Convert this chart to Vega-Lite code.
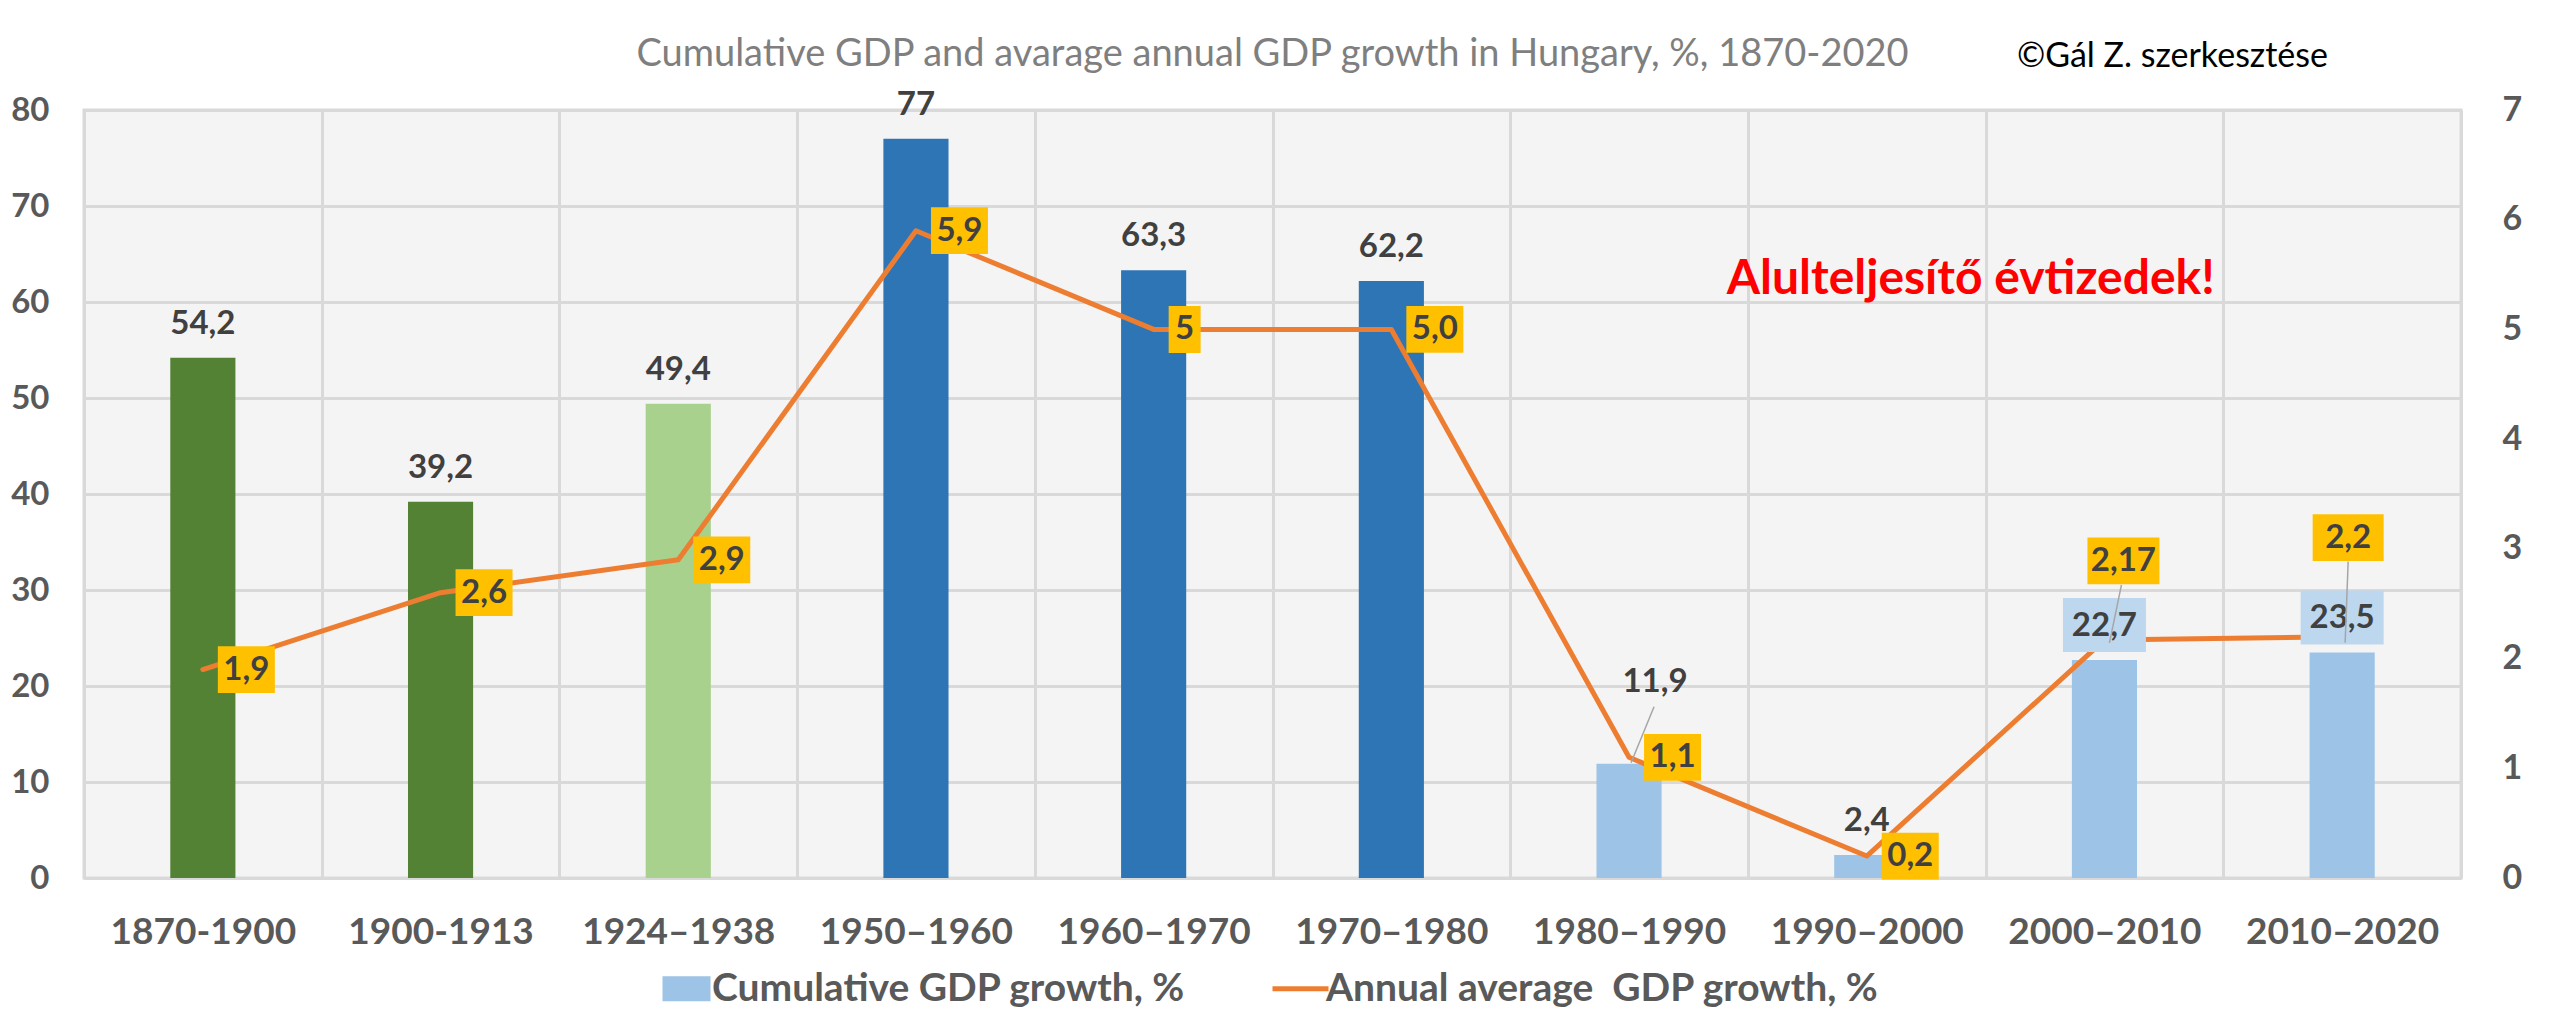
{
  "$schema": "https://vega.github.io/schema/vega-lite/v6.json",
  "width": 2377,
  "height": 768,
  "autosize": {"type": "none"},
  "padding": {"left": 84, "top": 110, "right": 91, "bottom": 131},
  "background": "white",
  "title": {
    "text": "Cumulative GDP and avarage annual GDP growth in Hungary, %, 1870-2020",
    "font": "Lato", "fontSize": 38, "fontWeight": "normal", "color": "#7F7F7F",
    "anchor": "middle", "frame": "group", "baseline": "alphabetic", "offset": 8, "dy": 72
  },
  "data": {
    "values": [
      {"period": "1870-1900", "cum": 54.2, "avg": 1.9, "era": "prewar", "cl": "54,2", "al": "1,9"},
      {"period": "1900-1913", "cum": 39.2, "avg": 2.6, "era": "prewar", "cl": "39,2", "al": "2,6"},
      {"period": "1924–1938", "cum": 49.4, "avg": 2.9, "era": "interwar", "cl": "49,4", "al": "2,9"},
      {"period": "1950–1960", "cum": 77, "avg": 5.9, "era": "socialist", "cl": "77", "al": "5,9"},
      {"period": "1960–1970", "cum": 63.3, "avg": 5.0, "era": "socialist", "cl": "63,3", "al": "5"},
      {"period": "1970–1980", "cum": 62.2, "avg": 5.0, "era": "socialist", "cl": "62,2", "al": "5,0"},
      {"period": "1980–1990", "cum": 11.9, "avg": 1.1, "era": "Cumulative GDP growth, %", "cl": "11,9", "al": "1,1"},
      {"period": "1990–2000", "cum": 2.4, "avg": 0.2, "era": "Cumulative GDP growth, %", "cl": "2,4", "al": "0,2"},
      {"period": "2000–2010", "cum": 22.7, "avg": 2.17, "era": "Cumulative GDP growth, %", "cl": "22,7", "al": "2,17"},
      {"period": "2010–2020", "cum": 23.5, "avg": 2.2, "era": "Cumulative GDP growth, %", "cl": "23,5", "al": "2,2"}
    ]
  },
  "config": {
    "view": {"fill": "#F4F4F4", "stroke": "#D9D9D9", "strokeWidth": 3},
    "axis": {"labelFont": "Lato", "labelFontWeight": "bold", "labelColor": "#595959", "ticks": false, "tickSize": 0, "title": null},
    "legend": {"layout": {"bottom": {"anchor": "middle"}}}
  },
  "resolve": {"scale": {"y": "independent"}, "axis": {"y": "independent"}},
  "layer": [
    {
      "layer": [
        {
          "mark": {"type": "bar", "width": {"band": 0.274}},
          "encoding": {
            "x": {
              "field": "period", "type": "nominal", "sort": null,
              "scale": {"domain": ["1870-1900", "1900-1913", "1924–1938", "1950–1960", "1960–1970", "1970–1980", "1980–1990", "1990–2000", "2000–2010", "2010–2020"], "paddingInner": 0, "paddingOuter": 0},
              "axis": {"labelAngle": 0, "labelFontSize": 37, "labelPadding": 36, "labelLimit": 500, "grid": true, "tickBand": "extent", "gridColor": "#D9D9D9", "gridWidth": 3, "domain": true, "domainColor": "#D9D9D9", "domainWidth": 3, "title": null}
            },
            "y": {
              "field": "cum", "type": "quantitative",
              "scale": {"domain": [0, 80], "nice": false},
              "axis": {"orient": "left", "values": [0, 10, 20, 30, 40, 50, 60, 70, 80], "grid": true, "gridColor": "#D9D9D9", "gridWidth": 3, "domain": false, "labelFontSize": 33, "labelPadding": 35, "title": null}
            },
            "color": {
              "field": "era", "type": "nominal",
              "scale": {"domain": ["prewar", "interwar", "socialist", "Cumulative GDP growth, %", "Annual average\u00a0 GDP growth, %"], "range": ["#548235", "#A9D18E", "#2E75B6", "#9DC3E6", "#ED7D31"]},
              "legend": {
                "values": ["Cumulative GDP growth, %", "Annual average\u00a0 GDP growth, %"],
                "title": null, "orient": "bottom", "direction": "horizontal",
                "labelFont": "Lato", "labelFontWeight": "bold", "labelFontSize": 39, "labelColor": "#595959",
                "labelLimit": 1000, "symbolSize": 3136, "labelOffset": 6, "columnPadding": 76, "offset": 19,
                "encode": {
                  "symbols": {
                    "update": {
                      "shape": {"signal": "datum.value === 'Cumulative GDP growth, %' ? 'M-1,-0.52H1V0.52H-1Z' : 'stroke'"},
                      "size": {"signal": "datum.value === 'Cumulative GDP growth, %' ? 2304 : 3136"},
                      "strokeWidth": {"signal": "datum.value === 'Cumulative GDP growth, %' ? 0 : 5"},
                      "fill": {"signal": "datum.value === 'Cumulative GDP growth, %' ? '#9DC3E6' : 'transparent'"},
                      "stroke": {"value": "#ED7D31"},
                      "opacity": {"value": 1}
                    }
                  }
                }
              }
            }
          }
        },
        {
          "data": {"values": [{}]},
          "mark": {"type": "text", "text": "Alulteljesítő évtizedek!", "font": "Lato", "fontWeight": "bold", "fontSize": 48, "color": "#FF0000", "dx": 104, "baseline": "middle", "align": "center"},
          "encoding": {"x": {"datum": "1990–2000"}, "y": {"datum": 62.3}}
        },
        {
          "data": {"values": [{}]},
          "mark": {"type": "text", "text": "©Gál Z. szerkesztése", "font": "Lato", "fontWeight": "normal", "fontSize": 34, "color": "#000000", "dx": 68, "baseline": "middle", "align": "center"},
          "encoding": {"x": {"datum": "2000–2010"}, "y": {"datum": 85.5}}
        }
      ]
    },
    {
      "layer": [
        {
          "mark": {"type": "line", "strokeWidth": 5, "strokeJoin": "round", "strokeCap": "round"},
          "encoding": {
            "x": {"field": "period", "type": "nominal", "sort": null},
            "y": {
              "field": "avg", "type": "quantitative",
              "scale": {"domain": [0, 7], "nice": false},
              "axis": {"orient": "right", "values": [0, 1, 2, 3, 4, 5, 6, 7], "grid": false, "domain": false, "labelFontSize": 34, "labelPadding": 41, "title": null}
            },
            "color": {"datum": "Annual average\u00a0 GDP growth, %"}
          }
        }
      ]
    },
    {
      "encoding": {
        "x": {"field": "period", "type": "nominal", "sort": null},
        "y": {"field": "cum", "type": "quantitative", "scale": {"domain": [0, 80], "nice": false}, "axis": null}
      },
      "layer": [
        {
          "transform": [{"filter": {"field": "period", "oneOf": ["2000–2010", "2010–2020"]}}],
          "mark": {"type": "point", "shape": "M-1,-0.65H1V0.65H-1Z", "size": 6889, "filled": true, "color": "#BDD7EE", "opacity": 1, "strokeWidth": 0, "yOffset": -35}
        },
        {
          "transform": [{"filter": "datum.period !== '1980–1990'"}],
          "mark": {"type": "text", "font": "Lato", "fontWeight": "bold", "fontSize": 33, "color": "#404040", "dy": -34, "baseline": "middle", "align": "center"},
          "encoding": {"text": {"field": "cl"}}
        },
        {
          "transform": [{"filter": "datum.period === '1980–1990'"}],
          "mark": {"type": "text", "font": "Lato", "fontWeight": "bold", "fontSize": 33, "color": "#404040", "dx": 26, "dy": -82, "baseline": "middle", "align": "center"},
          "encoding": {"text": {"field": "cl"}}
        },
        {
          "transform": [{"filter": "datum.period === '1980–1990'"}],
          "mark": {"type": "rule", "color": "#A6A6A6", "strokeWidth": 1.5, "xOffset": 2, "x2Offset": 25, "yOffset": -1, "y2Offset": -57},
          "encoding": {"x2": {"field": "period"}, "y2": {"field": "cum"}}
        }
      ]
    },
    {
      "encoding": {
        "x": {"field": "period", "type": "nominal", "sort": null},
        "y": {"field": "avg", "type": "quantitative", "scale": {"domain": [0, 7], "nice": false}, "axis": null}
      },
      "layer": [
        {
          "transform": [{"filter": {"field": "period", "oneOf": ["1870-1900", "1900-1913", "1924–1938", "1950–1960", "1970–1980", "1980–1990", "1990–2000"]}}],
          "mark": {"type": "point", "shape": "M-1,-0.82H1V0.82H-1Z", "size": 3249, "filled": true, "color": "#FFC000", "opacity": 1, "strokeWidth": 0, "xOffset": 43.5}
        },
        {
          "transform": [{"filter": "datum.period === '1960–1970'"}],
          "mark": {"type": "point", "shape": "M-0.68,-1H0.68V1H-0.68Z", "size": 2209, "filled": true, "color": "#FFC000", "opacity": 1, "strokeWidth": 0, "xOffset": 31}
        },
        {
          "transform": [{"filter": "datum.period === '2000–2010'"}],
          "mark": {"type": "point", "shape": "M-1,-0.65H1V0.65H-1Z", "size": 5184, "filled": true, "color": "#FFC000", "opacity": 1, "strokeWidth": 0, "xOffset": 19, "yOffset": -79}
        },
        {
          "transform": [{"filter": "datum.period === '2010–2020'"}],
          "mark": {"type": "point", "shape": "M-1,-0.66H1V0.66H-1Z", "size": 5041, "filled": true, "color": "#FFC000", "opacity": 1, "strokeWidth": 0, "xOffset": 6, "yOffset": -99}
        },
        {
          "transform": [{"filter": {"field": "period", "oneOf": ["1870-1900", "1900-1913", "1924–1938", "1950–1960", "1970–1980", "1980–1990", "1990–2000"]}}],
          "mark": {"type": "text", "font": "Lato", "fontWeight": "bold", "fontSize": 33, "color": "#404040", "dx": 43.5, "baseline": "middle", "align": "center"},
          "encoding": {"text": {"field": "al"}}
        },
        {
          "transform": [{"filter": "datum.period === '1960–1970'"}],
          "mark": {"type": "text", "font": "Lato", "fontWeight": "bold", "fontSize": 33, "color": "#404040", "dx": 31, "baseline": "middle", "align": "center"},
          "encoding": {"text": {"field": "al"}}
        },
        {
          "transform": [{"filter": "datum.period === '2000–2010'"}],
          "mark": {"type": "text", "font": "Lato", "fontWeight": "bold", "fontSize": 33, "color": "#404040", "dx": 19, "dy": -79, "baseline": "middle", "align": "center"},
          "encoding": {"text": {"field": "al"}}
        },
        {
          "transform": [{"filter": "datum.period === '2010–2020'"}],
          "mark": {"type": "text", "font": "Lato", "fontWeight": "bold", "fontSize": 33, "color": "#404040", "dx": 6, "dy": -99, "baseline": "middle", "align": "center"},
          "encoding": {"text": {"field": "al"}}
        },
        {
          "transform": [{"filter": "datum.period === '2000–2010'"}],
          "mark": {"type": "rule", "color": "#A6A6A6", "strokeWidth": 1.5, "xOffset": 5, "x2Offset": 17, "yOffset": 3, "y2Offset": -55},
          "encoding": {"x2": {"field": "period"}, "y2": {"field": "avg"}}
        },
        {
          "transform": [{"filter": "datum.period === '2010–2020'"}],
          "mark": {"type": "rule", "color": "#A6A6A6", "strokeWidth": 1.5, "xOffset": 3, "x2Offset": 6, "yOffset": 6, "y2Offset": -75},
          "encoding": {"x2": {"field": "period"}, "y2": {"field": "avg"}}
        }
      ]
    }
  ]
}
